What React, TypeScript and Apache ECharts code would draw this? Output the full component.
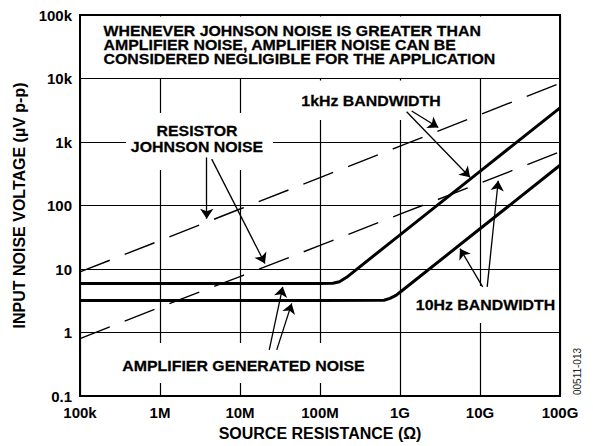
import React, { useEffect, useRef } from 'react';
import * as echarts from 'echarts';

// Source resistance (ohms) at each decade
const resistance = [1e5, 1e6, 1e7, 1e8, 1e9, 1e10, 1e11];
// Resistor Johnson noise (uV p-p)
const johnson1kHz = [9, 28, 88, 275, 860, 2700, 8400];
const johnson10Hz = [0.8, 2.5, 7.6, 23.5, 73, 225, 700];

// Total (amplifier generated + current noise) curves
const amp1kHzR = [1e5, 1e6, 1e7, 1e8, 1.45e8, 1.75e8, 2.15e8, 1e9, 1e10, 1e11];
const amp1kHzV = [5.9, 5.9, 5.9, 5.9, 5.95, 6.3, 7.4, 34.5, 345, 3450];
const amp10HzR = [1e5, 1e6, 1e7, 1e8, 6.3e8, 7.5e8, 9e8, 1e9, 1e10, 1e11];
const amp10HzV = [3.2, 3.2, 3.2, 3.2, 3.22, 3.45, 3.87, 4.3, 43, 430];

// Tick labels
const xTickLabels = ['100k', '1M', '10M', '100M', '1G', '10G', '100G'];
const yTickLabels = ['0.1', '1', '10', '100', '1k', '10k', '100k'];

// Annotation arrows in data coordinates: [x1, y1, x2, y2]
const arrows = [
  [3.84e6, 571, 3.84e6, 62],
  [4.43e6, 537, 2.05e7, 12.2],
  [1.4e9, 3070, 3.01e9, 1690],
  [1.21e9, 3000, 7.5e9, 278],
  [1.23e10, 5.24, 1.69e10, 245],
  [1.08e10, 5.24, 5.62e9, 20.9],
  [2.32e7, 0.532, 3.42e7, 5.24],
  [2.88e7, 0.532, 4.43e7, 2.87],
];

const titleLines = [
  'WHENEVER JOHNSON NOISE IS GREATER THAN',
  'AMPLIFIER NOISE, AMPLIFIER NOISE CAN BE',
  'CONSIDERED NEGLIGIBLE FOR THE APPLICATION',
];

const FONT = '"Liberation Sans", Arial, Helvetica, sans-serif';

function pairs(xs: number[], ys: number[]) {
  return xs.map((x, i) => [x, ys[i]]);
}

function label(text: string, x: number, y: number, align = 'center') {
  return {
    type: 'text',
    x,
    y,
    z: 10,
    scaleX: 1.06,
    silent: true,
    style: {
      text,
      font: `bold 15px ${FONT}`,
      fill: '#000',
      stroke: '#000',
      lineWidth: 0.25,
      align,
      textAlign: align,
      verticalAlign: 'middle',
      textVerticalAlign: 'middle',
    },
  };
}

function whiteBox(x: number, y: number, w: number, h: number) {
  return {
    type: 'rect',
    z: 1,
    silent: true,
    shape: { x, y, width: w, height: h },
    style: { fill: '#fff' },
  };
}

export default function App() {
  const ref = useRef<HTMLDivElement>(null);

  useEffect(() => {
    if (!ref.current) return;
    const chart = echarts.init(ref.current, undefined, { renderer: 'svg' });

    const axisLabelStyle = {
      color: '#000',
      fontFamily: FONT,
      fontWeight: 'bold' as const,
      fontSize: 15,
    };

    const option: any = {
      animation: false,
      backgroundColor: '#fff',
      grid: {
        left: 80,
        right: 33,
        top: 15,
        bottom: 48,
        show: true,
        borderColor: '#000',
        borderWidth: 2,
        backgroundColor: 'transparent',
      },
      xAxis: {
        type: 'log',
        logBase: 10,
        min: 1e5,
        max: 1e11,
        splitNumber: 6,
        name: 'SOURCE RESISTANCE (Ω)',
        nameLocation: 'middle',
        nameGap: 29,
        nameTextStyle: { ...axisLabelStyle, fontSize: 16 },
        axisLine: { show: true, onZero: false, lineStyle: { color: '#000', width: 2 } },
        axisTick: { show: false },
        minorTick: { show: false },
        axisLabel: {
          ...axisLabelStyle,
          margin: 9,
          formatter: (v: number) => xTickLabels[Math.round(Math.log10(v)) - 5] ?? '',
        },
        splitLine: { show: true, lineStyle: { color: '#000', width: 1.2 } },
      },
      yAxis: {
        type: 'log',
        logBase: 10,
        min: 0.1,
        max: 1e5,
        splitNumber: 6,
        name: 'INPUT NOISE VOLTAGE (µV p-p)',
        nameLocation: 'middle',
        nameGap: 52,
        nameTextStyle: { ...axisLabelStyle, fontSize: 16 },
        axisLine: { show: true, onZero: false, lineStyle: { color: '#000', width: 2 } },
        axisTick: { show: false },
        minorTick: { show: false },
        axisLabel: {
          ...axisLabelStyle,
          margin: 8,
          formatter: (v: number) => yTickLabels[Math.round(Math.log10(v)) + 1] ?? '',
        },
        splitLine: { show: true, lineStyle: { color: '#000', width: 1.2 } },
      },
      series: [
        {
          name: 'Johnson 1kHz',
          type: 'line',
          data: pairs(resistance, johnson1kHz),
          showSymbol: false,
          silent: true,
          z: 3,
          lineStyle: { color: '#000', width: 1.4, type: [32, 16] },
        },
        {
          name: 'Johnson 10Hz',
          type: 'line',
          data: pairs(resistance, johnson10Hz),
          showSymbol: false,
          silent: true,
          z: 3,
          lineStyle: { color: '#000', width: 1.4, type: [32, 16] },
        },
        {
          name: 'Amplifier 1kHz',
          type: 'line',
          data: pairs(amp1kHzR, amp1kHzV),
          showSymbol: false,
          silent: true,
          z: 4,
          lineStyle: { color: '#000', width: 3, join: 'round' },
        },
        {
          name: 'Amplifier 10Hz',
          type: 'line',
          data: pairs(amp10HzR, amp10HzV),
          showSymbol: false,
          silent: true,
          z: 4,
          lineStyle: { color: '#000', width: 3, join: 'round' },
        },
        {
          name: 'arrows',
          type: 'line',
          data: [],
          silent: true,
          z: 5,
          markLine: {
            silent: true,
            animation: false,
            symbol: ['none', 'arrow'],
            symbolSize: 10,
            label: { show: false },
            emphasis: { disabled: true },
            itemStyle: { color: '#000' },
            lineStyle: { color: '#000', width: 1.3, type: 'solid' },
            data: arrows.map((a) => [
              { coord: [a[0], a[1]] },
              { coord: [a[2], a[3]] },
            ]),
          },
        },
      ],
      graphic: [
        whiteBox(81, 16.5, 478, 61.5),
        whiteBox(126, 113, 147, 57),
        whiteBox(298, 80.5, 147, 39.5),
        whiteBox(414, 286, 144, 37),
        whiteBox(118, 343, 252, 40),
        label(titleLines[0], 103.5, 30.3, 'left'),
        label(titleLines[1], 103.5, 44.7, 'left'),
        label(titleLines[2], 103.5, 59.1, 'left'),
        label('RESISTOR', 197, 131),
        label('JOHNSON NOISE', 197, 146.5),
        label('1kHz BANDWIDTH', 371, 101),
        label('10Hz BANDWIDTH', 485.5, 305),
        label('AMPLIFIER GENERATED NOISE', 243.5, 365.5),
        {
          type: 'text',
          x: 577,
          y: 371.5,
          rotation: Math.PI / 2,
          z: 10,
          silent: true,
          style: {
            text: '00511-013',
            font: `10px ${FONT}`,
            fill: '#222',
            align: 'center',
            textAlign: 'center',
            verticalAlign: 'middle',
            textVerticalAlign: 'middle',
          },
        },
      ],
    };

    chart.setOption(option);
    return () => chart.dispose();
  }, []);

  return (
    <div
      ref={ref}
      style={{ position: 'absolute', left: 0, top: 0, width: 593, height: 446, background: '#fff' }}
    />
  );
}
